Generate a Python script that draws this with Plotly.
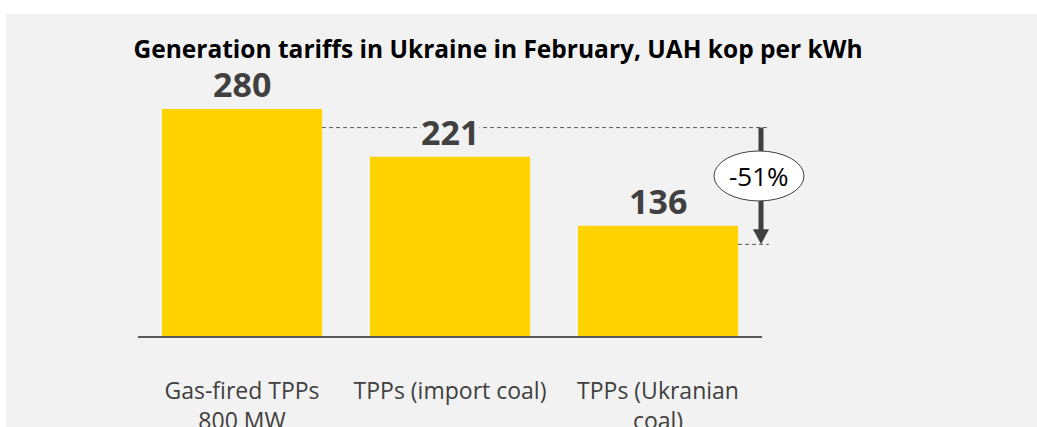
import plotly.graph_objects as go

categories = ["Gas-fired TPPs<br>800 MW", "TPPs (import coal)", "TPPs (Ukranian<br>coal)"]
values = [280, 221, 136]
value_labels = ["280", "221", "136"]
change_label = "-51%"
title_text = "Generation tariffs in Ukraine in February, UAH kop per kWh"

W, H = 1037, 427
L, R, T, B = 138, 275, 70, 91
PH = H - T - B
YMAX = 328
BAR_COLOR = "#FFD200"
DARK = "#404040"
FONT = "Open Sans"

def xp(xd):
    # data x (category index) -> paper
    return (xd + 0.5) / len(categories)

def yp(yd):
    return yd / YMAX

def px_to_paper_x(px):
    return (px - L) / (W - L - R)

def px_to_paper_y(py):
    return (H - B - py) / PH

fig = go.Figure()
fig.add_trace(go.Bar(
    x=list(range(len(categories))), y=values,
    marker=dict(color=BAR_COLOR, line=dict(width=0)),
    width=0.77, hoverinfo="skip",
))

shapes = []
# gray panel
shapes.append(dict(type="rect", xref="paper", yref="paper", layer="below",
                   x0=px_to_paper_x(6), x1=px_to_paper_x(W + 5),
                   y0=px_to_paper_y(H + 5), y1=px_to_paper_y(14),
                   fillcolor="#F2F2F2", line=dict(width=0)))

half = 0.77 / 2
offset = 23  # arrow drawn slightly below value levels, as in reference
y_top = values[0] - offset
y_bot = values[2] - offset
arrow_x = px_to_paper_x(761)
dash = dict(color="#595959", width=1, dash="4px,3px")
shapes.append(dict(type="line", xref="paper", yref="paper",
                   x0=xp(0 + half), x1=px_to_paper_x(767), y0=yp(y_top), y1=yp(y_top), line=dash))
shapes.append(dict(type="line", xref="paper", yref="paper",
                   x0=xp(2 + half), x1=px_to_paper_x(769), y0=yp(y_bot), y1=yp(y_bot), line=dash))
# arrow shaft
shapes.append(dict(type="line", xref="paper", yref="paper",
                   x0=arrow_x, x1=arrow_x, y0=yp(y_top), y1=yp(y_bot) + 12 / PH,
                   line=dict(color=DARK, width=5)))
# arrow head
shapes.append(dict(type="path", xref="paper", yref="paper",
                   xsizemode="pixel", ysizemode="pixel",
                   xanchor=arrow_x, yanchor=yp(y_bot),
                   path="M -8 15 L 8 15 L 0 0 Z",
                   fillcolor=DARK, line=dict(width=0)))
# ellipse
ell_x = px_to_paper_x(759)
ell_y = (yp(y_top) + yp(y_bot)) / 2 + 10 / PH
shapes.append(dict(type="circle", xref="paper", yref="paper",
                   xsizemode="pixel", ysizemode="pixel",
                   xanchor=ell_x, yanchor=ell_y,
                   x0=-45, x1=45, y0=-25, y1=25,
                   fillcolor="white", line=dict(color=DARK, width=1)))

annotations = []
for i, (v, lab) in enumerate(zip(values, value_labels)):
    annotations.append(dict(x=i, y=v, xref="x", yref="y", text="<b>%s</b>" % lab,
                            showarrow=False, yanchor="bottom", xanchor="center", yshift=1,
                            font=dict(family=FONT, size=34, color=DARK),
                            bgcolor="#F2F2F2", borderpad=0))
annotations.append(dict(x=ell_x, y=ell_y, xref="paper", yref="paper",
                        text=change_label, showarrow=False,
                        xanchor="center", yanchor="middle",
                        font=dict(family=FONT, size=26, color="black")))

fig.update_layout(
    width=W, height=H,
    margin=dict(l=L, r=R, t=T, b=B, pad=0, autoexpand=False),
    paper_bgcolor="white", plot_bgcolor="rgba(0,0,0,0)",
    bargap=0.23, showlegend=False,
    title=dict(text="<b>%s</b>" % title_text, xref="paper", x=px_to_paper_x(498),
               xanchor="center", yref="container", y=1 - 49 / H, yanchor="middle",
               automargin=False,
               font=dict(family=FONT, size=24.5, color="black")),
    xaxis=dict(range=[-0.5, 2.5], tickmode="array", tickvals=list(range(len(categories))),
               ticktext=categories, showline=True, linecolor="#595959", linewidth=1.5,
               showgrid=False, zeroline=False, ticks="", ticklabelstandoff=34,
               automargin=False,
               tickfont=dict(family=FONT, size=23, color=DARK)),
    yaxis=dict(range=[0, YMAX], visible=False, showgrid=False, zeroline=False,
               automargin=False),
    shapes=shapes, annotations=annotations,
)

fig.write_html("out.html")
